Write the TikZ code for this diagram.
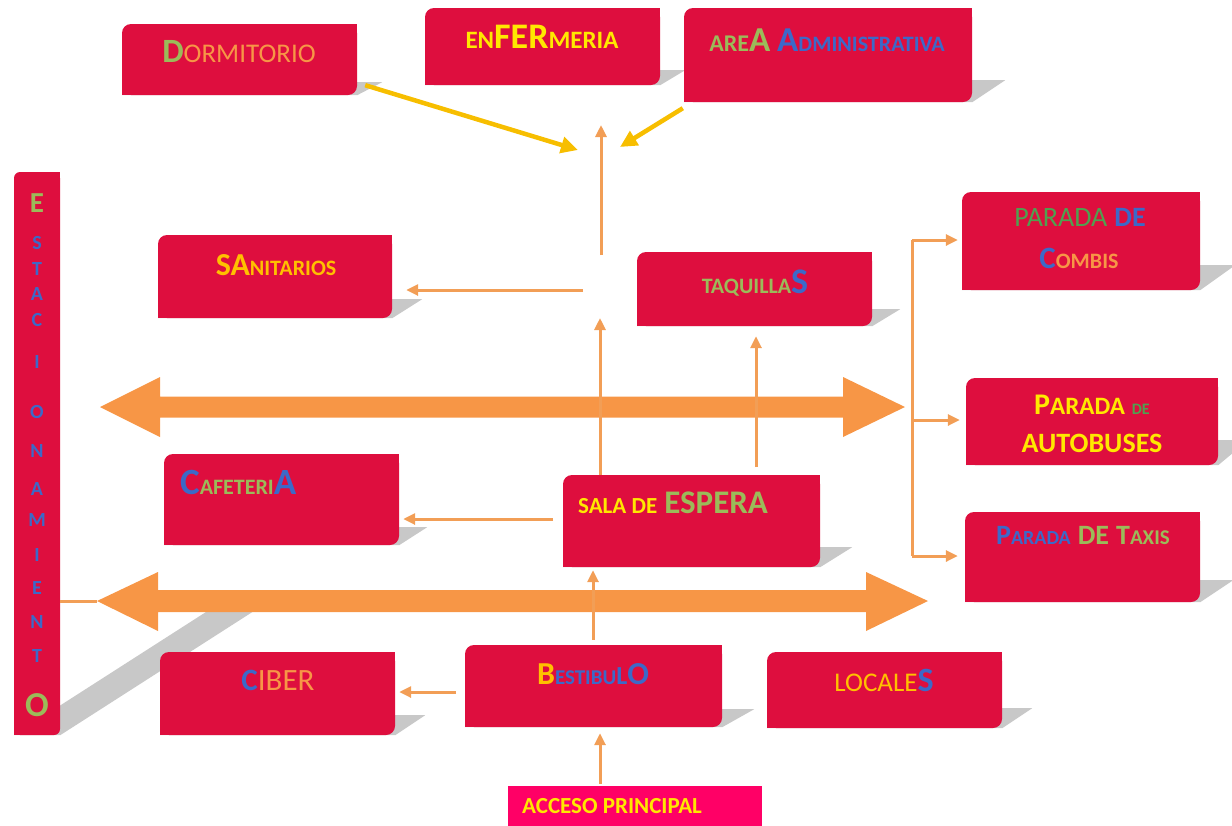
\documentclass[tikz,border=0pt]{standalone}
\usepackage{fontspec}
\setmainfont{Carlito}
\usetikzlibrary{arrows.meta,calc}
\pgfdeclarelayer{background}
\pgfsetlayers{background,main}

\definecolor{boxred}{RGB}{222,14,62}
\definecolor{accpink}{RGB}{255,0,102}
\definecolor{shadowgrey}{RGB}{200,200,200}
\definecolor{ygreen}{RGB}{155,187,89}
\definecolor{dgreen}{RGB}{80,160,80}
\definecolor{tblue}{RGB}{60,105,200}
\definecolor{torange}{RGB}{247,150,70}
\definecolor{tyellow}{RGB}{255,232,0}
\definecolor{tgold}{RGB}{255,192,0}
\definecolor{thinorange}{RGB}{242,158,86}
\definecolor{bigorange}{RGB}{247,150,70}
\definecolor{arrowyellow}{RGB}{247,190,0}

\newcommand\fz[1]{\fontsize{#1}{#1}\selectfont}
\newcommand\gap{\hspace{7pt}}
% perspective shadow behind a box: the bottom edge pushed right and up
\newcommand\boxshadow[3]{%
  \fill[shadowgrey] (#1.south west) -- (#1.south east)
    -- ($(#1.south east)+(#2,#3)$) -- ($(#1.south west)+(#2,#3)$) -- cycle;}
% square off the top right and bottom left corners
\newcommand\squarecorners[2]{%
  \fill[#2] (#1.north east) rectangle ++(-12,12);
  \fill[#2] (#1.south west) rectangle ++(12,-12);}

\tikzset{
  rbox/.style={fill=boxred, rounded corners=9pt, inner sep=0pt},
  label/.style={inner sep=0pt, font=\fz{24}},
  tarrow/.style={draw=thinorange, line width=3pt, -{Triangle[length=12pt,width=11pt]}},
  tline/.style={draw=thinorange, line width=3pt},
  yarrow/.style={draw=arrowyellow, line width=4.5pt, -{Triangle[length=17pt,width=16pt]}},
  estletter/.style={inner sep=0pt, font=\bfseries\fz{20}, text=tblue},
}

\begin{document}
\begin{tikzpicture}[x=1pt,y=-1pt]
\useasboundingbox (0,0) rectangle (1232,825);

% boxes
\node[rbox, minimum width=235pt, minimum height=71pt] (dorm) at (239.5,59.5) {};
\node[rbox, minimum width=235pt, minimum height=77pt] (enf) at (542.5,46.5) {};
\node[rbox, minimum width=288pt, minimum height=94pt] (area) at (828,55) {};
\node[rbox, rounded corners=6pt, minimum width=46pt, minimum height=563pt] (est) at (37,453.5) {};
\node[rbox, minimum width=234pt, minimum height=83pt] (san) at (275,276.5) {};
\node[rbox, minimum width=235pt, minimum height=74pt] (taq) at (754.5,289) {};
\node[rbox, minimum width=238pt, minimum height=98pt] (comb) at (1081,241) {};
\node[rbox, minimum width=252pt, minimum height=87pt] (bus) at (1092,421.5) {};
\node[rbox, minimum width=235pt, minimum height=90pt] (taxi) at (1082.5,557) {};
\node[rbox, minimum width=235pt, minimum height=91pt] (cafe) at (281.5,499.5) {};
\node[rbox, minimum width=257pt, minimum height=92pt] (sala) at (691.5,521) {};
\node[rbox, minimum width=235pt, minimum height=83pt] (ciber) at (277.5,693.5) {};
\node[rbox, minimum width=257pt, minimum height=82pt] (best) at (593.5,686) {};
\node[rbox, minimum width=235pt, minimum height=76pt] (loc) at (884.5,690) {};
\node[fill=accpink, inner sep=0pt, minimum width=254pt, minimum height=44pt] (acc) at (635,808) {};

\foreach \b in {dorm,enf,area,san,taq,comb,bus,taxi,cafe,sala,ciber,best,loc}
  {\squarecorners{\b}{boxred}}
\fill[boxred] (est.north east) rectangle ++(-7,7);
\fill[boxred] (est.south west) rectangle ++(7,-7);

% shadows
\begin{pgfonlayer}{background}
  \boxshadow{dorm}{25}{-13}
  \boxshadow{enf}{25}{-15}
  \boxshadow{area}{33}{-22}
  \boxshadow{san}{30}{-19}
  \boxshadow{taq}{28}{-17}
  \boxshadow{comb}{35}{-25}
  \boxshadow{bus}{30}{-25}
  \boxshadow{taxi}{33}{-22}
  \boxshadow{cafe}{28}{-18}
  \boxshadow{sala}{32}{-20}
  \boxshadow{ciber}{30}{-20}
  \boxshadow{best}{32}{-18}
  \boxshadow{loc}{30}{-20}
  \boxshadow{est}{195}{-125}
\end{pgfonlayer}

% labels
\node[label] (dorm-t) at (239,52) {{\color{ygreen}\bfseries\fz{34}D}{\color{torange}\fz{27}ORMITORIO}};
\node[label, font=\bfseries, text=tyellow] (enf-t) at (542,37) {{\fz{25}EN}{\fz{36}FER}{\fz{25}MERIA}};
\node[label, font=\bfseries] (area-t) at (827,40) {{\color{ygreen}{\fz{24}ARE}{\fz{35}A}}\gap{\color{tblue}{\fz{35}A}{\fz{22}DMINISTRATIVA}}};
\node[label, font=\bfseries, text=tgold] (san-t) at (276,265) {{\fz{32}SA}{\fz{22}NITARIOS}};
\node[label, font=\bfseries] (taq-t) at (755,283) {{\color{ygreen}\fz{22}TAQUILLA}{\color{tblue}\fz{36}S}};
\node[label] (comb-t1) at (1080,217) {{\color{dgreen}\fz{28}PARADA}\gap{\color{tblue}\bfseries\fz{28}DE}};
\node[label, font=\bfseries] (comb-t2) at (1079,258) {{\color{tblue}\fz{31}C}{\color{torange}\fz{22}OMBIS}};
\node[label, font=\bfseries, text=tyellow] (bus-t1) at (1092,405) {{\fz{30}P}{\fz{25}ARADA}\gap{\color{dgreen}\fz{16}DE}};
\node[label, font=\bfseries, text=tyellow] (bus-t2) at (1092,443) {\fz{28}AUTOBUSES};
\node[label, font=\bfseries] (taxi-t) at (1083,535) {{\color{tblue}{\fz{28}P}{\fz{20}ARADA}}\gap{\color{ygreen}{\fz{28}DE}\gap{\fz{28}T}{\fz{21}AXIS}}};
\node[label, font=\bfseries, anchor=west] (cafe-t) at (180,482) {{\color{tblue}\fz{37}C}{\color{ygreen}\fz{22}AFETERI}{\color{tblue}\fz{37}A}};
\node[label, font=\bfseries, anchor=west] (sala-t) at (578,503) {{\color{tyellow}\fz{23}SALA DE}\gap{\color{ygreen}\fz{33}ESPERA}};
\node[label] (ciber-t) at (278,680) {{\color{tblue}\bfseries\fz{31}C}{\color{torange}\fz{31}IBER}};
\node[label, font=\bfseries] (best-t) at (593,674) {{\color{tgold}\fz{32}B}{\color{tblue}\fz{21}ESTIBU}{\color{tblue}\fz{26}L}{\color{tblue}\fz{32}O}};
\node[label] (loc-t) at (884,680) {{\color{tgold}\fz{27}LOCALE}{\color{tblue}\bfseries\fz{34}S}};
\node[label, font=\bfseries\fz{23}, text=tyellow, anchor=west] (acc-t) at (522,806) {ACCESO PRINCIPAL};

% vertical lettering of the parking strip
\node[estletter, font=\bfseries\fz{29}, text=ygreen] (est-e) at (37,203) {E};
\foreach \l/\y [count=\i] in {S/243,T/269,A/294,C/320,I/362,O/412,N/451,A/489,M/520,I/555,E/588,N/622,T/656}
  \node[estletter] (est-\i) at (37,\y) {\l};
\node[estletter, font=\bfseries\fz{35}, text=ygreen] (est-o) at (37,705) {O};

% main corridors (double arrows)
\fill[bigorange] (100,407) -- (160,377) -- (160,396.5) -- (843,396.5) -- (843,377)
  -- (905,407) -- (843,437) -- (843,417.5) -- (160,417.5) -- (160,437) -- cycle;
\fill[bigorange] (97,601) -- (158,572) -- (158,590) -- (866,590) -- (866,572)
  -- (928,601) -- (866,631) -- (866,612) -- (158,612) -- (158,631) -- cycle;

% connectors
\coordinate (upA) at (601,255);
\coordinate (upB) at (601,125);
\draw[tarrow] (upA) -- (upB);
\coordinate (yd) at (578,150);
\coordinate (ya) at (620,147);
\draw[yarrow] ([shift={(8,-10)}]dorm.south east) -- (yd);
\draw[yarrow] ([shift={(-1,6)}]area.south west) -- (ya);

\coordinate (sanfrom) at (583,290);
\draw[tarrow, shorten >=14pt] (sanfrom) -- (san.east |- sanfrom);

\coordinate (salaup) at (600,318);
\draw[tarrow] (sala.north -| salaup) -- (salaup);
\coordinate (taqfrom) at (756,467);
\draw[tarrow, shorten >=10pt] (taqfrom) -- (taq.south -| taqfrom);

\coordinate (cafefrom) at (553,519);
\draw[tarrow, shorten >=4pt] (cafefrom) -- (cafe.east |- cafefrom);
\coordinate (cibfrom) at (456,692);
\draw[tarrow, shorten >=4pt] (cibfrom) -- (ciber.east |- cibfrom);

\coordinate (xb) at (593,0);
\draw[tarrow, shorten <=5pt, shorten >=3pt] (best.north -| xb) -- (sala.south -| xb);
\coordinate (xa) at (600,0);
\draw[tarrow, shorten <=2pt, shorten >=6pt] (acc.north -| xa) -- (best.south -| xa);

\coordinate (a2L) at (97,601);
\draw[tline] (est.east |- a2L) -- (a2L);

\coordinate (brT) at (912,240);
\coordinate (brM) at (912,420);
\coordinate (brB) at (912,556);
\draw[tline] (brT) -- (brB);
\draw[tarrow, shorten >=4pt] (brT) -- (comb.west |- brT);
\draw[tarrow, shorten >=6pt] (brM) -- (bus.west |- brM);
\draw[tarrow, shorten >=7pt] (brB) -- (taxi.west |- brB);
\end{tikzpicture}
\end{document}
